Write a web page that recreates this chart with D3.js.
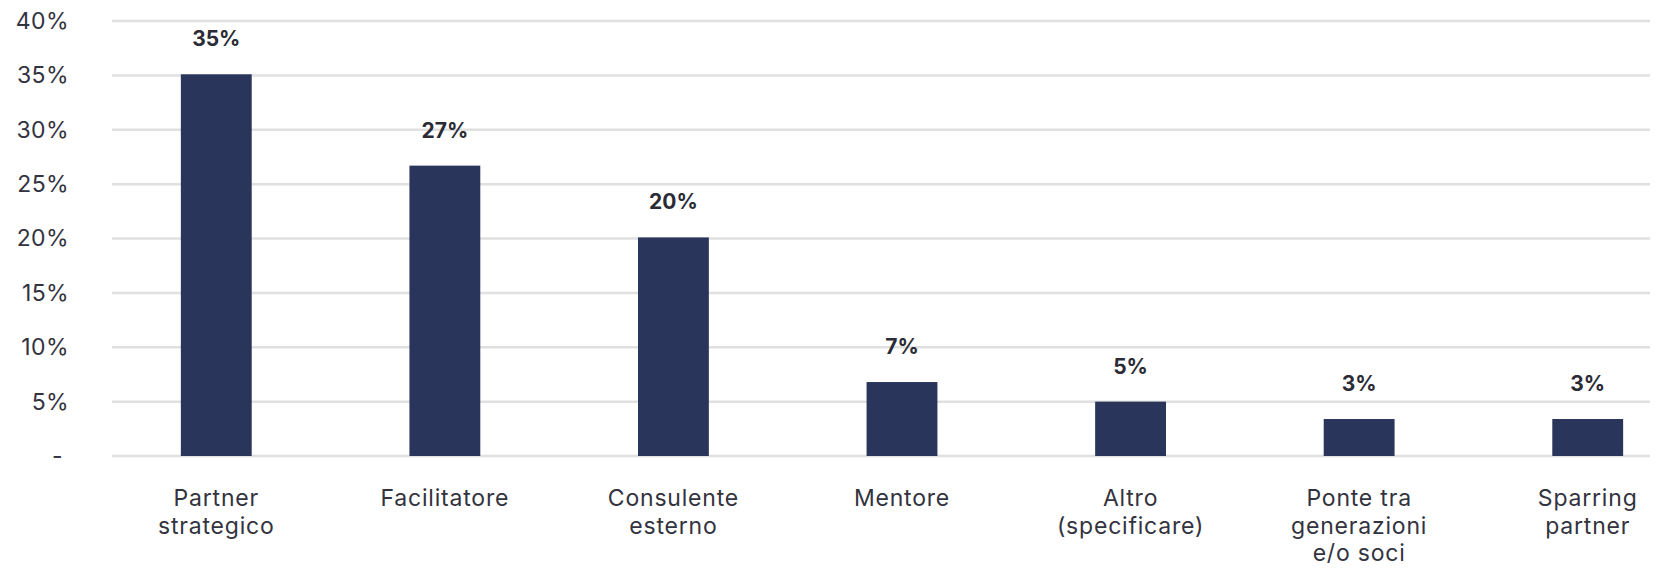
<!DOCTYPE html>
<html>
<head>
<meta charset="utf-8">
<script src="https://cdn.jsdelivr.net/npm/d3@7"></script>
<style>
  body { margin: 0; background: #fff; }
  svg { display: block; font-family: Inter, "Noto Sans", sans-serif; }
</style>
</head>
<body>
<div id="chart"></div>
<script>
// categories (line-broken as in the picture) and values in %
const categories = ["Partner strategico", "Facilitatore", "Consulente esterno", "Mentore",
  "Altro (specificare)", "Ponte tra generazioni e/o soci", "Sparring partner"];
const labelLines = [
  ["Partner", "strategico"],
  ["Facilitatore"],
  ["Consulente", "esterno"],
  ["Mentore"],
  ["Altro", "(specificare)"],
  ["Ponte tra", "generazioni", "e/o soci"],
  ["Sparring", "partner"]
];
const values = [35.1, 26.7, 20.1, 6.8, 5.0, 3.4, 3.4];
const valueLabels = ["35%", "27%", "20%", "7%", "5%", "3%", "3%"];
const yTicks = [0, 5, 10, 15, 20, 25, 30, 35, 40];

const width = 1655, height = 569;
const gridLeft = 112, gridRight = 1650;

const svg = d3.select("#chart").append("svg")
  .attr("width", width)
  .attr("height", height);

const x = d3.scaleBand()
  .domain(categories)
  .range([102, 1702])
  .paddingInner(0.69)
  .paddingOuter(0.345);

const y = d3.scaleLinear()
  .domain([0, 40])
  .range([456, 21]);

/* gridlines */
svg.append("g")
  .selectAll("line")
  .data(yTicks)
  .join("line")
  .attr("x1", gridLeft)
  .attr("x2", gridRight)
  .attr("y1", d => y(d))
  .attr("y2", d => y(d))
  .attr("stroke", "#e0e0e0")
  .attr("stroke-width", 2.5);

/* y axis labels */
const yAxis = svg.append("g")
  .attr("transform", "translate(69,0)")
  .call(d3.axisLeft(y).tickValues(yTicks).tickSize(0).tickPadding(0)
    .tickFormat(d => d === 0 ? "-" : d + "%"));
yAxis.select(".domain").remove();
yAxis.selectAll("text")
  .attr("fill", "#333340")
  .style("font-size", "23px")
  .style("letter-spacing", "0.4px")
  .style("font-family", "Inter, sans-serif")
  .attr("dx", d => d === 0 ? -6 : 0);

/* bars */
svg.append("g")
  .selectAll("rect")
  .data(values)
  .join("rect")
  .attr("x", (d, i) => x(categories[i]))
  .attr("width", x.bandwidth())
  .attr("y", d => y(d))
  .attr("height", d => y(0) - y(d))
  .attr("fill", "#2a355c");

/* value labels */
svg.append("g")
  .selectAll("text")
  .data(values)
  .join("text")
  .attr("x", (d, i) => x(categories[i]) + x.bandwidth() / 2)
  .attr("y", d => y(d) - 28)
  .attr("text-anchor", "middle")
  .attr("fill", "#2b2b36")
  .style("font-size", "21px")
  .style("font-weight", "700")
  .text((d, i) => valueLabels[i]);

/* category labels */
const cat = svg.append("g")
  .selectAll("text")
  .data(categories)
  .join("text")
  .attr("x", d => x(d) + x.bandwidth() / 2)
  .attr("y", 506)
  .attr("text-anchor", "middle")
  .attr("fill", "#333340")
  .style("font-size", "23px")
  .style("letter-spacing", "0.8px");

cat.each(function(d, i) {
  d3.select(this).selectAll("tspan")
    .data(labelLines[i])
    .join("tspan")
    .attr("x", x(d) + x.bandwidth() / 2)
    .attr("dy", (t, j) => j === 0 ? 0 : 27.5)
    .text(t => t);
});
</script>
</body>
</html>
